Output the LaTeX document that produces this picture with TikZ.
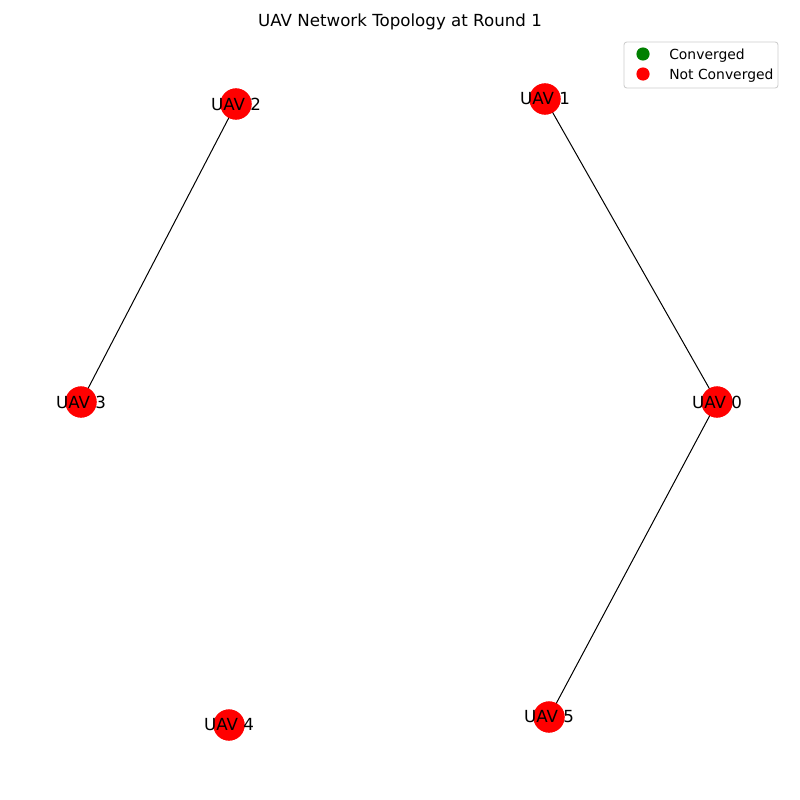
\documentclass[tikz,border=0pt]{standalone}
\usepackage{fontspec}
\setmainfont{DejaVu Sans}
\definecolor{nodered}{RGB}{255,0,0}
\definecolor{convgreen}{RGB}{0,128,0}
\definecolor{legframe}{RGB}{204,204,204}
\begin{document}
\begin{tikzpicture}[x=0.72pt,y=-0.72pt,
  uav/.style={circle,fill=nodered,minimum size=22.4pt,inner sep=0pt},
  lbl/.style={font=\fontsize{12}{14}\selectfont,inner sep=0pt,text=black},
  edge/.style={draw=black,line width=0.72pt},
  legmark/.style={circle,minimum size=9.5pt,inner sep=0pt},
  legtext/.style={font=\fontsize{10}{12}\selectfont,anchor=west,inner sep=0pt,yshift=-1.2pt}]
\useasboundingbox (0,0) rectangle (800,800);
\fill[white] (0,0) rectangle (800,800);
% nodes
\node[uav] (u0) at (717,402) {};
\node[uav] (u1) at (545,99) {};
\node[uav] (u2) at (236,104) {};
\node[uav] (u3) at (81,402) {};
\node[uav] (u4) at (229,725) {};
\node[uav] (u5) at (549,717) {};
% edges
\draw[edge] (u2.center) -- (u3.center);
\draw[edge] (u1.center) -- (u0.center);
\draw[edge] (u0.center) -- (u5.center);
% redraw node discs above edges
\foreach \n in {u0,u1,u2,u3,u4,u5}{\fill[nodered] (\n) circle (11.2pt);}
% labels
\node[lbl] (l0) at (u0) {UAV 0};
\node[lbl] (l1) at (u1) {UAV 1};
\node[lbl] (l2) at (u2) {UAV 2};
\node[lbl] (l3) at (u3) {UAV 3};
\node[lbl] (l4) at (u4) {UAV 4};
\node[lbl] (l5) at (u5) {UAV 5};
% title
\node[font=\fontsize{12}{14}\selectfont,inner sep=0pt] (title) at (400,22) {UAV Network Topology at Round 1};
% legend
\draw[legframe,fill=white,rounded corners=2pt,line width=0.6pt] (624,42) rectangle (778,88);
\node[legmark,fill=convgreen] (m1) at (643,54) {};
\node[legmark,fill=nodered] (m2) at (643,74) {};
\node[legtext] (t1) at (669,54) {Converged};
\node[legtext] (t2) at (669,74) {Not Converged};
\end{tikzpicture}
\end{document}
